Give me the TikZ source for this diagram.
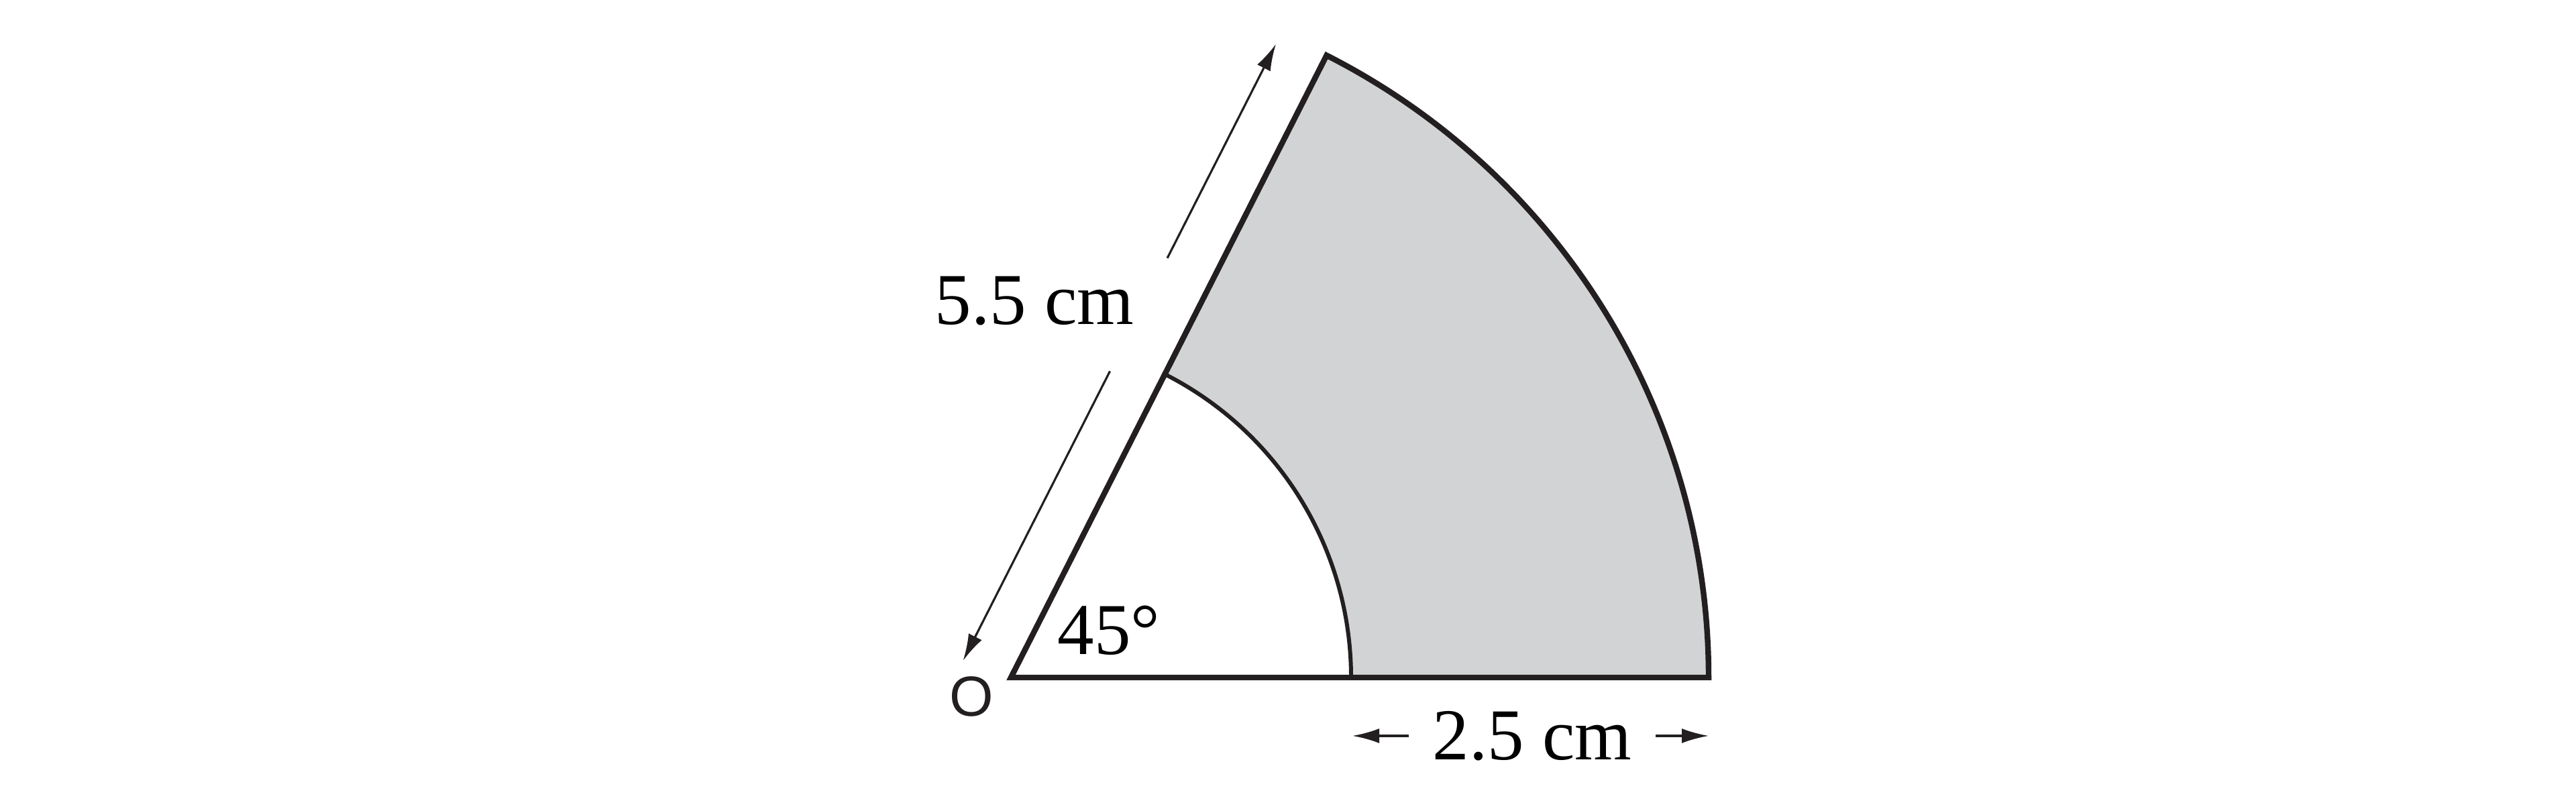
\documentclass[tikz,border=0pt]{standalone}
\usepackage{fontspec}
\setmainfont{Liberation Serif}
\newfontfamily\pointfont{Liberation Sans}
\usetikzlibrary{arrows.meta,calc}
\definecolor{ink}{HTML}{231F20}
\definecolor{ringgrey}{HTML}{D1D3D4}

\begin{document}
\begin{tikzpicture}[x=0.5cm,y=0.5cm,
	edge/.style={draw=ink,line width=1.2pt,line join=miter},
	innerarc/.style={draw=ink,line width=0.85pt},
	dimline/.style={draw=ink,line width=0.45pt,-{Latex[length=0.2cm,width=0.11cm]}},
	measure/.style={text=black,font=\fontsize{15.5}{18}\selectfont,inner sep=0pt}]
	\useasboundingbox (0,0) rectangle (38.40,12.09);
	\coordinate (O) at (15.07,1.99);
	\coordinate (A) at ($(O)+(10.40,0)$);
	\coordinate (a) at ($(O)+(5.07,0)$);
	\coordinate (b) at ($(O)+(63.1:5.07)$);
	\fill[ringgrey] (a) -- (A) arc[start angle=0,end angle=63.1,radius=10.40] -- (b) arc[start angle=63.1,end angle=0,radius=5.07] -- cycle;
	\draw[innerarc] (a) arc[start angle=0,end angle=63.1,radius=5.07];
	\draw[edge] (O) -- (A) arc[start angle=0,end angle=63.1,radius=10.40] -- cycle;
	\coordinate (s0) at ($(O)+(243.1:0.10)+(153.1:0.75)$);
	\coordinate (s1) at ($(O)+(63.1:4.74)+(153.1:0.75)$);
	\coordinate (s2) at ($(O)+(63.1:6.63)+(153.1:0.75)$);
	\coordinate (s3) at ($(O)+(63.1:10.21)+(153.1:0.75)$);
	\draw[dimline] (s1) -- (s0);
	\draw[dimline] (s2) -- (s3);
	\node[measure] (slant) at (15.42,7.60) {5.5 cm};
	\node[measure,inner xsep=0.17cm] (width) at (22.84,1.12) {2.5 cm};
	\coordinate (w0) at (20.16,1.12);
	\coordinate (w1) at (25.47,1.12);
	\draw[dimline] (width.west) -- (w0);
	\draw[dimline] (width.east) -- (w1);
	\node[measure] (angle) at (16.53,2.69) {45°};
	\node[font=\pointfont\fontsize{12}{14}\selectfont,inner sep=0pt,text=ink] (origin) at (14.48,1.71) {O};
\end{tikzpicture}
\end{document}
